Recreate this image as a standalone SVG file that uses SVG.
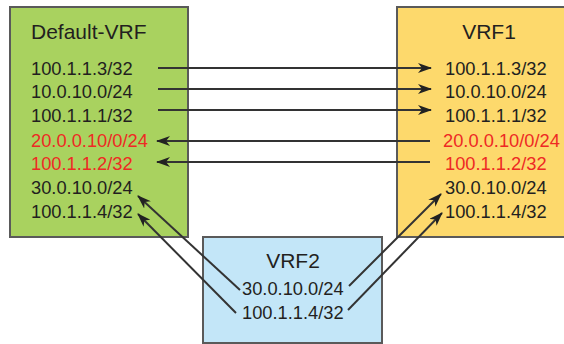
<svg xmlns="http://www.w3.org/2000/svg" width="564" height="344" viewBox="0 0 564 344">
<style>
.box{stroke:#5a5a5a;stroke-width:2}
text{font-family:"Liberation Sans",Arial,sans-serif;fill:#231f20}
.t{font-size:21px}
.i{font-size:18.3px}
.r{fill:#ee2a24}
.c{stroke:#333;stroke-width:2;fill:none;marker-end:url(#ah)}
</style>
<defs>
<marker id="ah" viewBox="0 0 14 10" refX="13" refY="5" markerWidth="14" markerHeight="10" markerUnits="userSpaceOnUse" orient="auto">
<path d="M0,0 L14,5 L0,10 L4,5 Z" fill="#222"/>
</marker>
</defs>
<rect width="564" height="344" fill="#fff"/>
<g id="default-vrf">
<rect class="box" x="10" y="7" width="178" height="230" fill="#a9d25f"/>
<text class="t" x="31" y="39">Default-VRF</text>
<text class="i" x="31" y="75">100.1.1.3/32</text>
<text class="i" x="31" y="98">10.0.10.0/24</text>
<text class="i" x="31" y="122">100.1.1.1/32</text>
<text class="i r" x="31" y="147">20.0.0.10/0/24</text>
<text class="i r" x="31" y="170">100.1.1.2/32</text>
<text class="i" x="31" y="194">30.0.10.0/24</text>
<text class="i" x="31" y="218">100.1.1.4/32</text>
</g>
<g id="vrf1">
<rect class="box" x="397" y="7" width="180" height="230" fill="#fdd96c"/>
<text class="t" x="489" y="39" text-anchor="middle">VRF1</text>
<text class="i" x="445" y="75">100.1.1.3/32</text>
<text class="i" x="445" y="98">10.0.10.0/24</text>
<text class="i" x="445" y="122">100.1.1.1/32</text>
<text class="i r" x="443" y="147">20.0.0.10/0/24</text>
<text class="i r" x="445" y="170">100.1.1.2/32</text>
<text class="i" x="445" y="194">30.0.10.0/24</text>
<text class="i" x="445" y="218">100.1.1.4/32</text>
</g>
<g id="vrf2">
<rect class="box" x="203" y="237" width="179" height="106" fill="#c3e6f8"/>
<text class="t" x="293" y="268" text-anchor="middle">VRF2</text>
<text class="i" x="242" y="295">30.0.10.0/24</text>
<text class="i" x="242" y="319">100.1.1.4/32</text>
</g>
<g id="connectors">
<line class="c" x1="158" y1="68" x2="431" y2="68"/>
<line class="c" x1="158" y1="89" x2="431" y2="89"/>
<line class="c" x1="158" y1="110" x2="431" y2="110"/>
<line class="c" x1="430" y1="141" x2="157" y2="141"/>
<line class="c" x1="430" y1="162" x2="157" y2="162"/>
<line class="c" x1="240" y1="290" x2="138" y2="196"/>
<line class="c" x1="236" y1="313" x2="138" y2="214"/>
<line class="c" x1="349" y1="286" x2="441" y2="194"/>
<line class="c" x1="348" y1="310" x2="442" y2="213"/>
</g>
</svg>
